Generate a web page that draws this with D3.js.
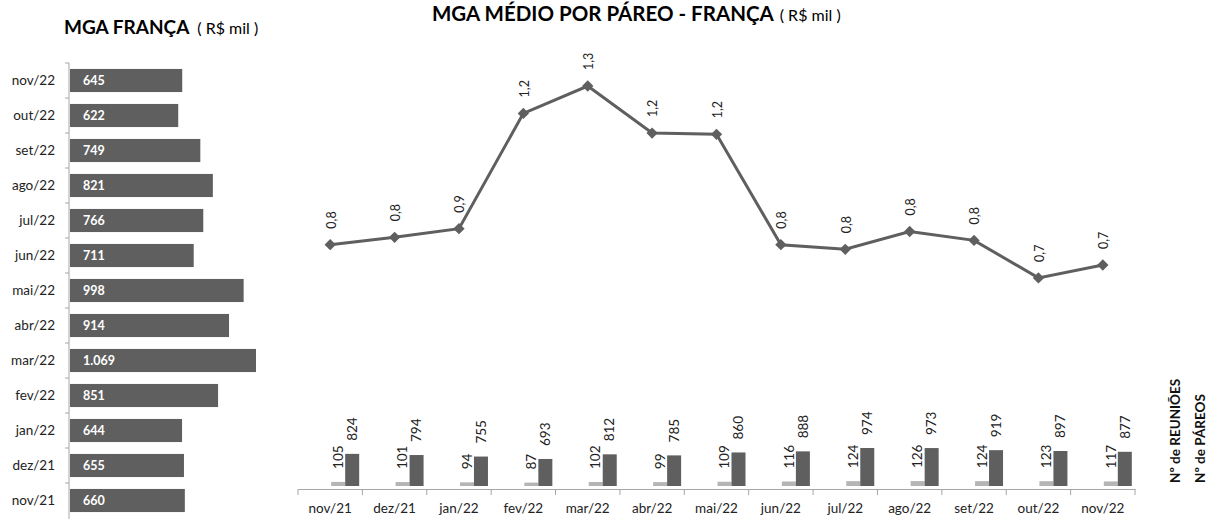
<!DOCTYPE html>
<html>
<head>
<meta charset="utf-8">
<script src="https://cdn.jsdelivr.net/npm/d3@7"></script>
<style>
  body { margin: 0; background: #fff; }
  text { font-family: Lato, "Open Sans", sans-serif; }
</style>
</head>
<body>
<svg id="chart" width="1218" height="519"></svg>
<script>
// left chart: MGA per month (newest on top)
var mgaMonths = ["nov/22", "out/22", "set/22", "ago/22", "jul/22", "jun/22", "mai/22",
                 "abr/22", "mar/22", "fev/22", "jan/22", "dez/21", "nov/21"]
var mgaValues = [645, 622, 749, 821, 766, 711, 998, 914, 1069, 851, 644, 655, 660]

// right chart: oldest first
var months = ["nov/21", "dez/21", "jan/22", "fev/22", "mar/22", "abr/22", "mai/22",
              "jun/22", "jul/22", "ago/22", "set/22", "out/22", "nov/22"]
var mgaMedio = [0.801, 0.825, 0.853, 1.228, 1.317, 1.164, 1.160, 0.801, 0.786, 0.844, 0.815, 0.693, 0.735]
var reunioes = [105, 101, 94, 87, 102, 99, 109, 116, 124, 126, 124, 123, 117]
var pareos = [824, 794, 755, 693, 812, 785, 860, 888, 974, 973, 919, 897, 877]

var dark = "#5f5f5f"
var light = "#b5b5b5"
var axisCol = "#a6a6a6"

var svg = d3.select("#chart")

// ---------- left: MGA FRANÇA ----------
var left = svg.append("g").attr("id", "left")

var t1 = left.append("text").attr("x", 64).attr("y", 34)
t1.append("tspan").attr("font-weight", "bold").attr("font-size", 19).text("MGA FRANÇA")
t1.append("tspan").attr("font-size", 16).attr("dx", 8).text("( R$ mil )")

var scYL = d3.scaleBand().domain(mgaMonths).range([63, 518]).paddingInner(0.34).paddingOuter(0.17)
var scXL = d3.scaleLinear().domain([0, 1069]).range([70, 256])

left.selectAll("rect").data(mgaMonths).enter().append("rect")
  .attr("x", 70)
  .attr("y", d => scYL(d))
  .attr("height", scYL.bandwidth())
  .attr("width", (d, i) => scXL(mgaValues[i]) - 70)
  .attr("fill", dark)

left.selectAll("text.val").data(mgaMonths).enter().append("text")
  .attr("class", "val")
  .attr("x", 83)
  .attr("y", d => scYL(d) + scYL.bandwidth() / 2)
  .attr("dy", "0.35em")
  .attr("fill", "#fff").attr("font-weight", "bold").attr("font-size", 12.5)
  .text((d, i) => d3.format(",")(mgaValues[i]).replace(/,/g, "."))

left.selectAll("text.cat").data(mgaMonths).enter().append("text")
  .attr("class", "cat")
  .attr("x", 55)
  .attr("y", d => scYL(d) + scYL.bandwidth() / 2)
  .attr("dy", "0.35em")
  .attr("text-anchor", "end").attr("font-size", 13.5).attr("fill", "#222")
  .text(d => d)

// y axis line with ticks at band edges
left.append("line").attr("x1", 69).attr("x2", 69).attr("y1", 63).attr("y2", 519)
  .attr("stroke", axisCol)
mgaMonths.forEach(function(m, i) {
  var yy = 63 + i * scYL.step()
  left.append("line").attr("x1", 65).attr("x2", 69).attr("y1", yy).attr("y2", yy)
    .attr("stroke", axisCol)
})

// ---------- right: MGA MÉDIO POR PÁREO ----------
var right = svg.append("g").attr("id", "right")

var t2 = right.append("text").attr("x", 432).attr("y", 21)
t2.append("tspan").attr("font-weight", "bold").attr("font-size", 20.5).text("MGA MÉDIO POR PÁREO - FRANÇA")
t2.append("tspan").attr("font-size", 16).attr("dx", 6).text("( R$ mil )")

var scX = d3.scaleBand().domain(months).range([298, 1135])
var baseY = 489

// line scale: 0.8 -> 245, 1.317 -> 86
var scY = d3.scaleLinear().domain([0, 1.6]).range([491, 491 - 1.6 * 307.5])
// bars scale
var scB = d3.scaleLinear().domain([0, 1000]).range([486, 486 - 39])

var cx = d => scX(d) + scX.bandwidth() / 2

// bars: reunioes (light) and pareos (dark), starting at category center
right.selectAll("rect.reu").data(months).enter().append("rect")
  .attr("class", "reu")
  .attr("x", d => cx(d) + 1)
  .attr("width", 14)
  .attr("y", (d, i) => scB(reunioes[i]))
  .attr("height", (d, i) => 486 - scB(reunioes[i]))
  .attr("fill", light)

right.selectAll("rect.par").data(months).enter().append("rect")
  .attr("class", "par")
  .attr("x", d => cx(d) + 15)
  .attr("width", 14)
  .attr("y", (d, i) => scB(pareos[i]))
  .attr("height", (d, i) => 486 - scB(pareos[i]))
  .attr("fill", dark)

function vText(g, x, y, s) {
  g.append("text")
    .attr("transform", "translate(" + x + "," + y + ") rotate(-90)")
    .attr("dy", "0.35em")
    .attr("font-size", 13.5).attr("fill", "#222")
    .text(s)
}

months.forEach(function(m, i) {
  vText(right, cx(m) + 8, scB(reunioes[i]) - 13, reunioes[i])
  vText(right, cx(m) + 22, scB(pareos[i]) - 13, pareos[i])
})

// x axis
var xAxis = d3.axisBottom(scX).tickSize(0).tickPadding(14)
var gx = right.append("g").attr("transform", "translate(0," + baseY + ")").call(xAxis)
gx.select(".domain").attr("stroke", axisCol)
gx.selectAll("text").attr("font-size", 13.5).attr("fill", "#222").attr("font-family", "Lato, sans-serif")
d3.range(months.length + 1).forEach(function(i) {
  var xx = 298 + i * scX.step()
  gx.append("line").attr("x1", xx).attr("x2", xx).attr("y1", 0).attr("y2", 6).attr("stroke", axisCol)
})

// line
var lineMaker = d3.line()
  .x(d => cx(d))
  .y((d, i) => scY(mgaMedio[i]))
right.append("path")
  .attr("fill", "none")
  .attr("stroke", dark)
  .attr("stroke-width", 3)
  .attr("d", lineMaker(months))

right.selectAll("path.pt").data(months).enter().append("path")
  .attr("class", "pt")
  .attr("d", d3.symbol(d3.symbolSquare, 64))
  .attr("transform", (d, i) => "translate(" + cx(d) + "," + scY(mgaMedio[i]) + ") rotate(45)")
  .attr("fill", dark)

months.forEach(function(m, i) {
  right.append("text")
    .attr("transform", "translate(" + (cx(m) + 1) + "," + (scY(mgaMedio[i]) - 16) + ") rotate(-90)")
    .attr("dy", "0.35em")
    .attr("font-size", 12.5).attr("fill", "#222")
    .text(d3.format(".1f")(mgaMedio[i]).replace(".", ","))
})

// legend labels (vertical)
var legend = ["Nº de REUNIÕES", "Nº de PÁREOS"]
legend.forEach(function(s, i) {
  svg.append("text")
    .attr("transform", "translate(" + (1175 + i * 25) + ",483) rotate(-90)")
    .attr("dy", "0.35em")
    .attr("font-weight", "bold").attr("font-size", 13.5).attr("fill", "#111")
    .text(s)
})
</script>
</body>
</html>
